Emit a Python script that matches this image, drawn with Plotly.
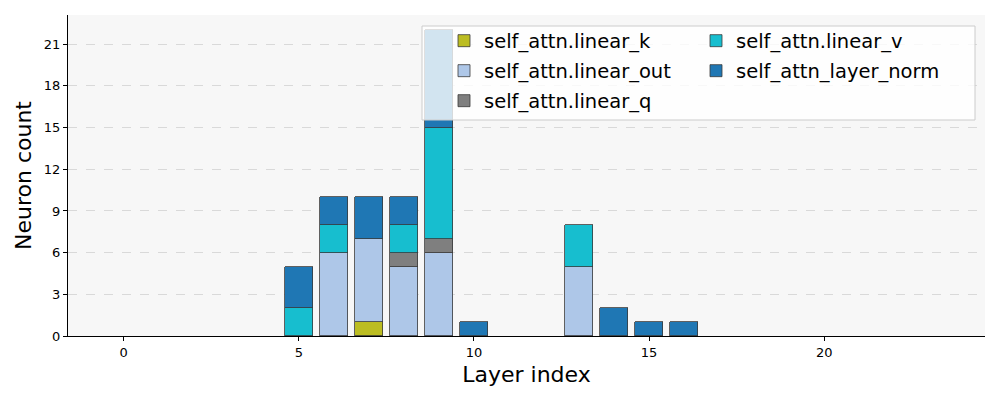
import plotly.graph_objects as go

layers = list(range(24))
series_names = ["self_attn.linear_k", "self_attn.linear_out", "self_attn.linear_q",
                "self_attn.linear_v", "self_attn_layer_norm"]
#            0  1  2  3  4  5  6  7  8  9 10 11 12 13 14 15 16 17 18 19 20 21 22 23
linear_k   = [0, 0, 0, 0, 0, 0, 0, 1, 0, 0, 0, 0, 0, 0, 0, 0, 0, 0, 0, 0, 0, 0, 0, 0]
linear_out = [0, 0, 0, 0, 0, 0, 6, 6, 5, 6, 0, 0, 0, 5, 0, 0, 0, 0, 0, 0, 0, 0, 0, 0]
linear_q   = [0, 0, 0, 0, 0, 0, 0, 0, 1, 1, 0, 0, 0, 0, 0, 0, 0, 0, 0, 0, 0, 0, 0, 0]
linear_v   = [0, 0, 0, 0, 0, 2, 2, 0, 2, 8, 0, 0, 0, 3, 0, 0, 0, 0, 0, 0, 0, 0, 0, 0]
layer_norm = [0, 0, 0, 0, 0, 3, 2, 3, 2, 7, 1, 0, 0, 0, 2, 1, 1, 0, 0, 0, 0, 0, 0, 0]
colors = ["#bcbd22", "#aec7e8", "#7f7f7f", "#17becf", "#1f77b4"]
y_ticks = [0, 3, 6, 9, 12, 15, 18, 21]
x_ticks = [0, 5, 10, 15, 20]

series = [linear_k, linear_out, linear_q, linear_v, layer_norm]

# the page body has an 8px default margin; compensate so the plot lands where intended
OFF = 8
W, H = 1000 - OFF, 400 - OFF
ML, MR, MT, MB = 68 - OFF, 15, 15 - OFF, 64
PW, PH = W - ML - MR, H - MT - MB

def px(x):  # screen x -> paper
    return (x - OFF - ML) / PW

def py(y):  # screen y -> paper
    return 1 - (y - OFF - MT) / PH

FONT = "DejaVu Sans"
fig = go.Figure()
legend_names = ["legend", "legend2", "legend3", "legend4", "legend5"]
for name, vals, col, lg in zip(series_names, series, colors, legend_names):
    fig.add_trace(go.Bar(
        x=layers, y=[v if v else None for v in vals], name=name,
        marker=dict(color=col, line=dict(color="#3a3a3a", width=0.8)),
        width=0.8, legend=lg,
    ))

# legend positions (column-major, 2 columns)
text_x = [484, 484, 484, 736, 736]
row_y = [41, 71, 101, 41, 71]
layout_legends = {}
for lg, tx, ry in zip(legend_names, text_x, row_y):
    layout_legends[lg] = dict(
        x=px(tx - 40), y=py(ry), xanchor="left", yanchor="middle",
        bgcolor="rgba(0,0,0,0)", borderwidth=0,
        font=dict(family=FONT, size=19.5, color="#000"),
    )

fig.update_layout(
    width=W, height=H,
    margin=dict(l=ML, r=MR, t=MT, b=MB),
    paper_bgcolor="white", plot_bgcolor="#f7f7f7",
    barmode="stack", bargap=0,
    font=dict(family=FONT, color="#000"),
    showlegend=True,
    **layout_legends,
    xaxis=dict(
        range=[-1.59, 24.59], tickvals=x_ticks, ticks="outside", ticklen=4,
        tickcolor="#000", showline=True, linecolor="#000", linewidth=1,
        showgrid=False, zeroline=False, tickfont=dict(size=13),
        title=dict(text="Layer index", font=dict(size=22), standoff=8),
    ),
    yaxis=dict(
        range=[0, 23.1], tickvals=y_ticks, ticks="outside", ticklen=4,
        tickcolor="#000", showline=True, linecolor="#000", linewidth=1,
        showgrid=True, gridcolor="#d9d9d9", griddash="dash", gridwidth=1,
        zeroline=False, tickfont=dict(size=13),
        title=dict(text="Neuron count", font=dict(size=22), standoff=6),
    ),
    shapes=[dict(
        type="rect", xref="paper", yref="paper",
        x0=px(422), x1=px(975), y0=py(120), y1=py(26),
        fillcolor="rgba(255,255,255,0.8)", line=dict(color="#cccccc", width=1),
        layer="above",
    )],
)

fig.write_html("out.html")
